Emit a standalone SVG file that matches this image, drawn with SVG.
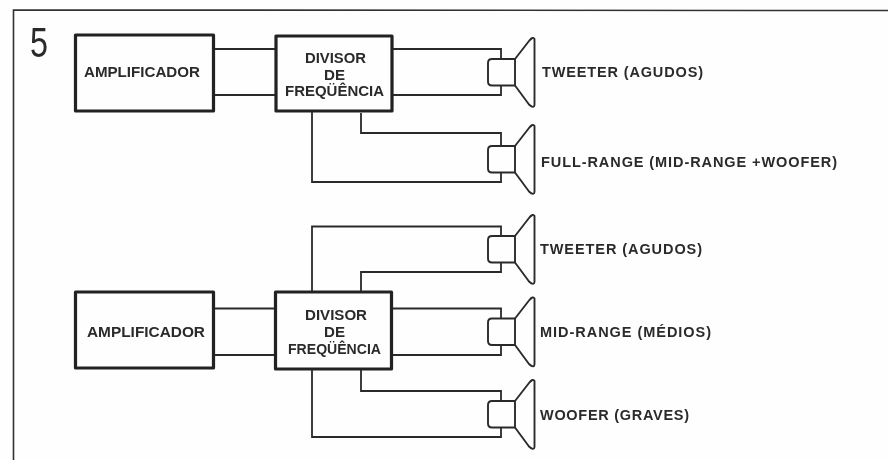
<svg xmlns="http://www.w3.org/2000/svg" width="888" height="460" viewBox="0 0 888 460">
<style>
.box{fill:none;stroke:#222;stroke-width:3.2;stroke-linejoin:round}
.w{fill:none;stroke:#2b2b2b;stroke-width:1.8}
.frame{fill:none;stroke:#333;stroke-width:1.6}
.spk{fill:none;stroke:#2b2b2b;stroke-width:1.9;stroke-linejoin:round}
text{font-family:"Liberation Sans",Arial,sans-serif;font-weight:700;fill:#2b2b2b;font-size:14.500px}
</style>
<defs>
<filter id="soft" x="0" y="0" width="100%" height="100%"><feGaussianBlur stdDeviation="0.45"/></filter>
<g id="speaker">
<path class="spk" d="M515 0H492Q488 0 488 4V22.500Q488 26.500 492 26.500H515Z"/>
<path class="spk" d="M515 0L529 -18Q533 -23 534.500 -20V46Q534 50 529 45.500L515 26.500"/>
</g>
</defs>
<rect width="888" height="460" fill="#fefefe"/>
<g filter="url(#soft)">
<rect width="888" height="460" fill="none"/>
<path class="frame" d="M13.500 460V10L888 10.500"/>
<text x="30" y="57" style="font-size:42px;font-weight:400" textLength="18" lengthAdjust="spacingAndGlyphs">5</text>
<g id="connectors">
<path class="w" d="M214 49H275M214 95H275M392 49H501V59M392 95H501V85"/>
<path class="w" d="M361 113V133H501V146M312 112V182H501V172"/>
<path class="w" d="M214 308.500H275M214 355H275M392 308.500H501V318M392 355H501V345"/>
<path class="w" d="M312 292V226.500H501V236M361 292V272H501V262"/>
<path class="w" d="M361 370V391H501V401M312 370V437H501V428"/>
</g>
<g id="amp1"><rect class="box" x="75.500" y="35" width="138" height="76"/><text x="84" y="77" textLength="116" lengthAdjust="spacingAndGlyphs">AMPLIFICADOR</text></g>
<g id="div1"><rect class="box" x="276" y="36" width="116" height="75"/>
<text x="305" y="63" textLength="61" lengthAdjust="spacingAndGlyphs">DIVISOR</text>
<text x="324" y="80" textLength="21" lengthAdjust="spacingAndGlyphs">DE</text>
<text x="285" y="96" textLength="99" lengthAdjust="spacingAndGlyphs">FREQÜÊNCIA</text></g>
<g id="amp2"><rect class="box" x="75.500" y="292" width="138" height="76"/><text x="87" y="337" textLength="118" lengthAdjust="spacingAndGlyphs">AMPLIFICADOR</text></g>
<g id="div2"><rect class="box" x="275.500" y="292" width="116" height="77"/>
<text x="305" y="320" textLength="62" lengthAdjust="spacingAndGlyphs">DIVISOR</text>
<text x="324" y="337" textLength="21" lengthAdjust="spacingAndGlyphs">DE</text>
<text x="288" y="354" textLength="93" lengthAdjust="spacingAndGlyphs">FREQÜÊNCIA</text></g>
<g id="spk1"><use href="#speaker" y="59"/><text x="542" y="77" textLength="161" lengthAdjust="spacing">TWEETER (AGUDOS)</text></g>
<g id="spk2"><use href="#speaker" y="146"/><text x="541" y="167" textLength="296" lengthAdjust="spacing">FULL-RANGE (MID-RANGE +WOOFER)</text></g>
<g id="spk3"><use href="#speaker" y="236"/><text x="540" y="254" textLength="162" lengthAdjust="spacing">TWEETER (AGUDOS)</text></g>
<g id="spk4"><use href="#speaker" y="318.500"/><text x="540" y="337" textLength="171" lengthAdjust="spacing">MID-RANGE (MÉDIOS)</text></g>
<g id="spk5"><use href="#speaker" y="401"/><text x="540" y="420" textLength="149" lengthAdjust="spacing">WOOFER (GRAVES)</text></g>
</g>
</svg>
